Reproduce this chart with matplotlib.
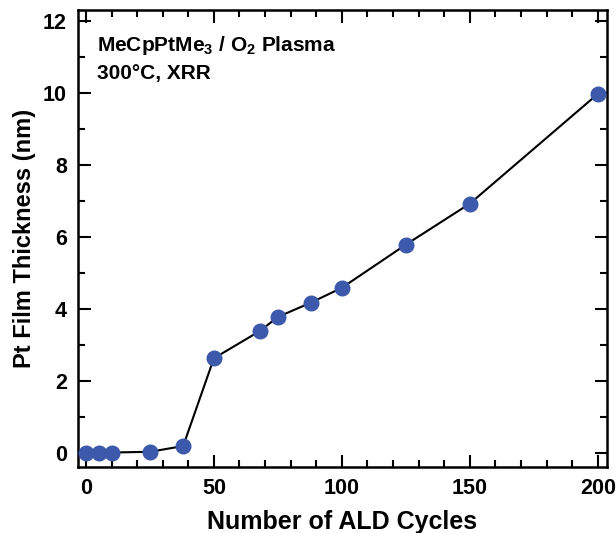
import numpy as np
import matplotlib.pyplot as plt
from matplotlib.ticker import MultipleLocator

# ALD cycles vs measured Pt film thickness (XRR)
cycles = [0, 5, 10, 25, 38, 50, 68, 75, 88, 100, 125, 150, 200]
thickness = [0.0, 0.0, 0.0, 0.02, 0.18, 2.62, 3.38, 3.77, 4.17, 4.58, 5.78, 6.92, 9.97]

plt.rcParams['font.family'] = ['Liberation Sans', 'DejaVu Sans']
plt.rcParams['font.weight'] = 'bold'
plt.rcParams['mathtext.fontset'] = 'custom'
plt.rcParams['mathtext.rm'] = 'Liberation Sans'
plt.rcParams['mathtext.bf'] = 'Liberation Sans:bold'

fig = plt.figure(figsize=(6.16, 5.33), dpi=100)
ax = fig.add_axes([0.127, 0.124, 0.858, 0.857])

ax.plot(cycles, thickness, color='black', lw=1.5, zorder=2)
ax.plot(cycles, thickness, 'o', color='#3d59ab', ms=10.5, zorder=3)

ax.set_xlim(-3, 203.5)
ax.set_ylim(-0.4, 12.3)
ax.xaxis.set_major_locator(MultipleLocator(50))
ax.xaxis.set_minor_locator(MultipleLocator(10))
ax.yaxis.set_major_locator(MultipleLocator(2))
ax.yaxis.set_minor_locator(MultipleLocator(1))

ax.tick_params(which='both', direction='in', top=True, right=True, width=1.5)
ax.tick_params(which='major', length=9, labelsize=15.5, pad=8)
ax.tick_params(which='minor', length=5)
for sp in ax.spines.values():
    sp.set_linewidth(1.8)

ax.set_xlabel('Number of ALD Cycles', fontsize=18, fontweight='bold', labelpad=8)
ax.set_ylabel('Pt Film Thickness (nm)', fontsize=17, fontweight='bold', labelpad=5)

ax.text(0.035, 0.948, 'MeCpPtMe$_\\mathbf{3}$ / O$_\\mathbf{2}$ Plasma\n300°C, XRR',
        transform=ax.transAxes, fontsize=15, fontweight='bold',
        va='top', ha='left', linespacing=1.45)

fig.savefig('out.png', dpi=100)
